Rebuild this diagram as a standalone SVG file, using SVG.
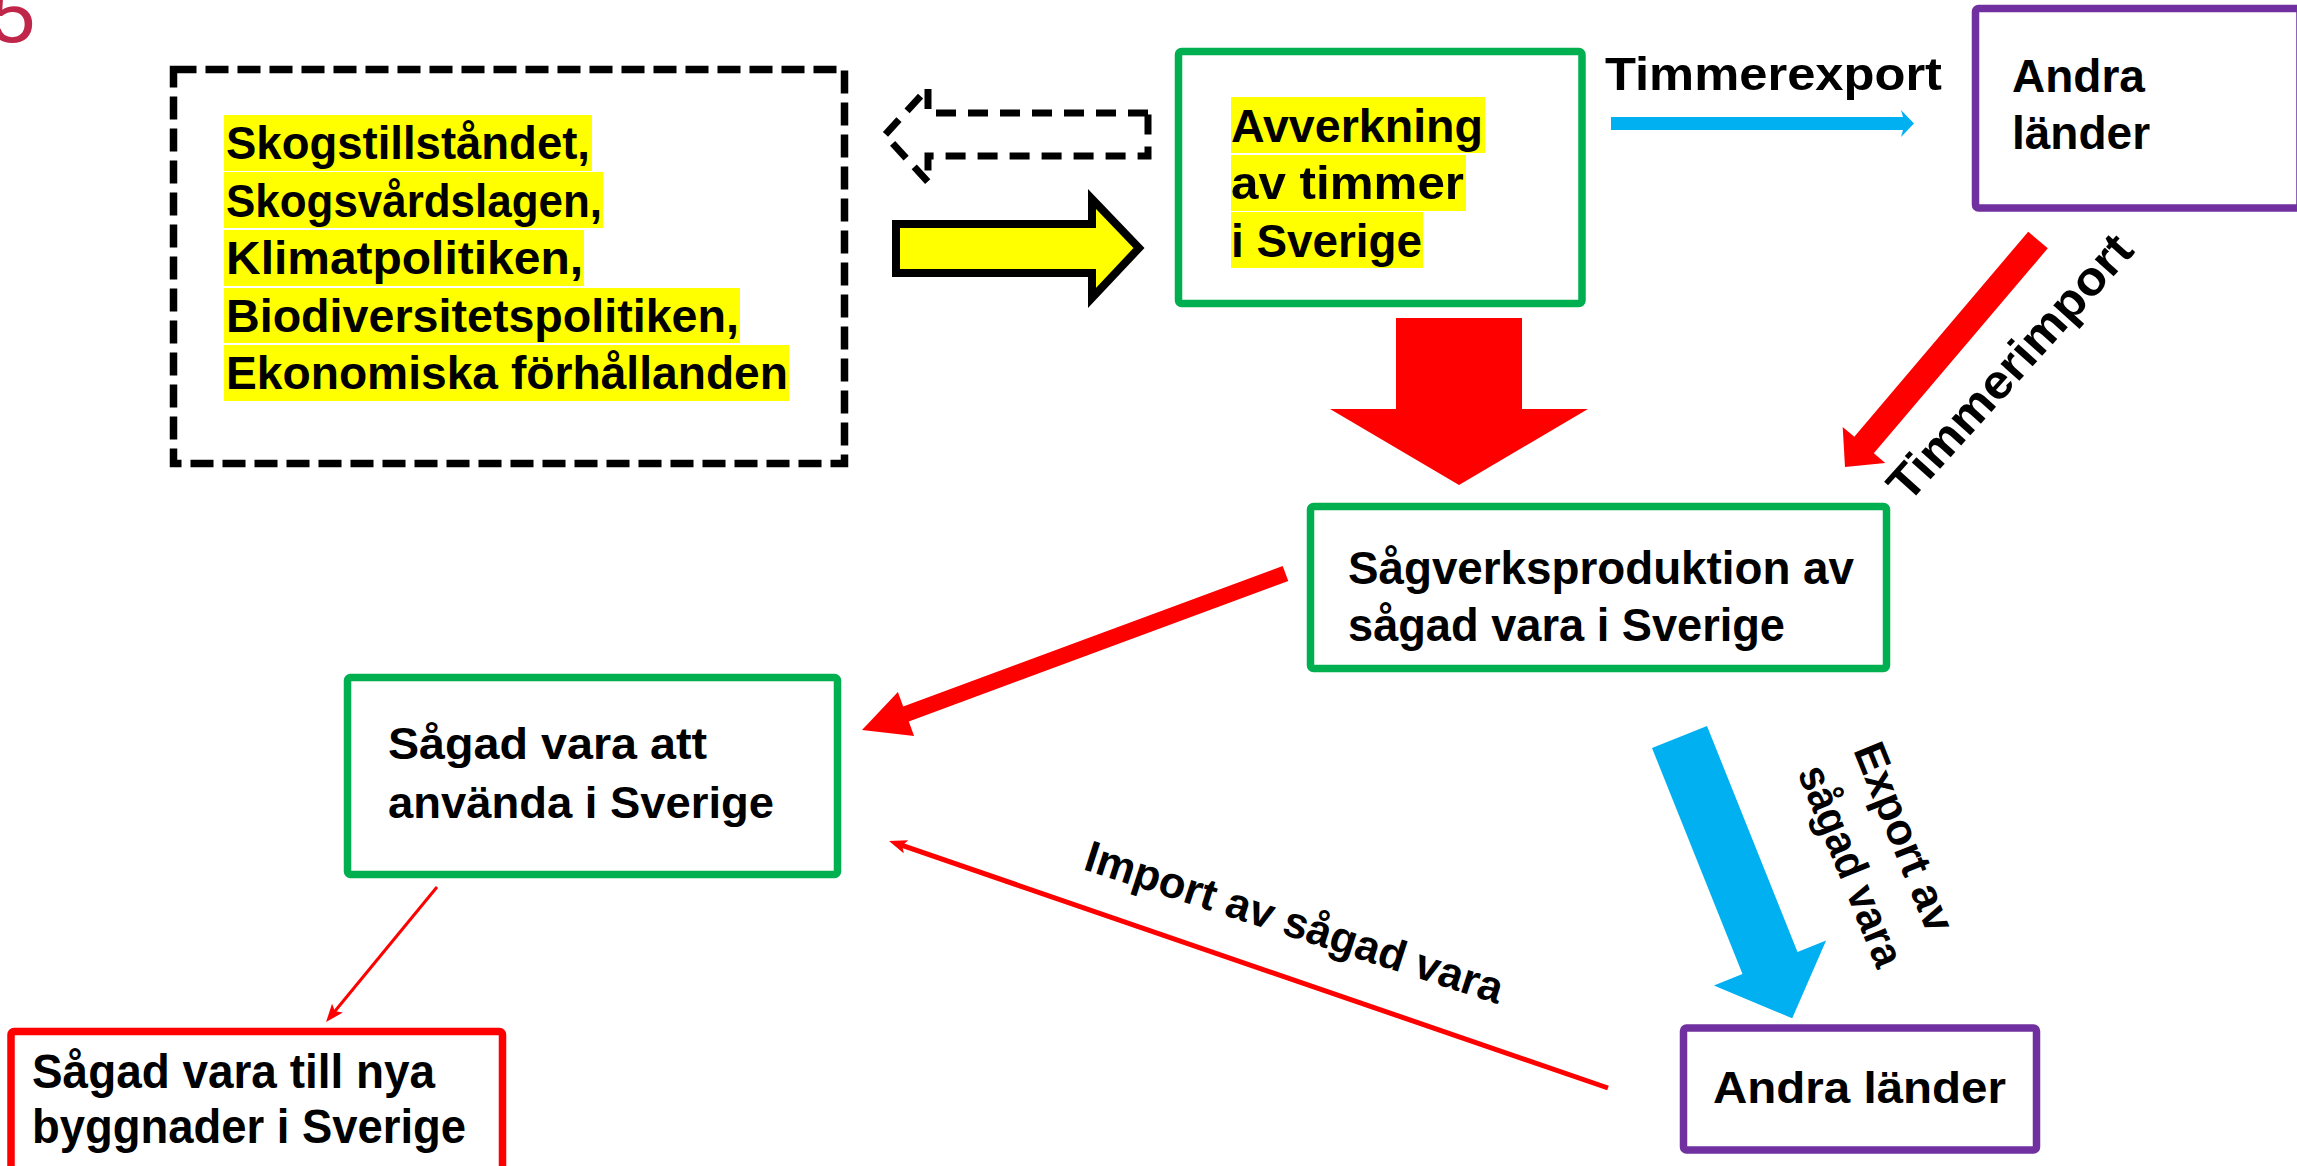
<svg xmlns="http://www.w3.org/2000/svg" width="2297" height="1166" viewBox="0 0 2297 1166">
<style>
.t{font-family:"Liberation Sans",Arial,sans-serif;font-weight:bold;fill:#000}
.hl{fill:#FFFF00}
.box{fill:#fff;stroke-width:7.5}
.g{stroke:#00B050}.p{stroke:#7030A0}.r{stroke:#FF0000}
</style>
<defs>
<marker id="ah" viewBox="0 0 18 14" refX="8" refY="7" markerWidth="18" markerHeight="14" markerUnits="userSpaceOnUse" orient="auto">
<path d="M0,0 L18,7 L0,14 L4,7 Z" fill="#FF0000"/>
</marker>
</defs>
<rect width="2297" height="1166" fill="#fff"/>
<text x="-10" y="42" font-family="Liberation Sans, Arial, sans-serif" font-size="82" fill="#C0264A">5</text>

<g id="n-factors">
<rect x="173.5" y="69.5" width="671" height="394" fill="none" stroke="#000" stroke-width="7.5" stroke-dasharray="23 9"/>
<rect class="hl" x="224" y="115" width="368" height="56"/>
<rect class="hl" x="224" y="172" width="379" height="56"/>
<rect class="hl" x="224" y="230" width="360" height="56"/>
<rect class="hl" x="224" y="288" width="516" height="55"/>
<rect class="hl" x="224" y="345" width="565" height="56"/>
<text class="t" font-size="47" x="226" y="159" textLength="364" lengthAdjust="spacingAndGlyphs">Skogstillståndet,</text>
<text class="t" font-size="47" x="226" y="217" textLength="376" lengthAdjust="spacingAndGlyphs">Skogsvårdslagen,</text>
<text class="t" font-size="47" x="226" y="274" textLength="357" lengthAdjust="spacingAndGlyphs">Klimatpolitiken,</text>
<text class="t" font-size="47" x="226" y="332" textLength="513" lengthAdjust="spacingAndGlyphs">Biodiversitetspolitiken,</text>
<text class="t" font-size="47" x="226" y="389" textLength="562" lengthAdjust="spacingAndGlyphs">Ekonomiska förhållanden</text>
</g>

<g id="n-avverkning">
<rect class="box g" x="1178.5" y="51.5" width="403.5" height="252" rx="3"/>
<rect class="hl" x="1231" y="97" width="254" height="56"/>
<rect class="hl" x="1231" y="155" width="235" height="56"/>
<rect class="hl" x="1231" y="212" width="192" height="56"/>
<text class="t" font-size="47" x="1231" y="142" textLength="252" lengthAdjust="spacingAndGlyphs">Avverkning</text>
<text class="t" font-size="47" x="1231" y="199" textLength="233" lengthAdjust="spacingAndGlyphs">av timmer</text>
<text class="t" font-size="47" x="1231" y="257" textLength="191" lengthAdjust="spacingAndGlyphs">i Sverige</text>
</g>

<g id="n-andra-top">
<rect class="box p" x="1975.5" y="8.5" width="324.5" height="199.5" rx="3"/>
<text class="t" font-size="46" x="2012" y="92">Andra</text>
<text class="t" font-size="46" x="2012" y="149">länder</text>
</g>

<g id="n-sagverk">
<rect class="box g" x="1310.5" y="506.5" width="576" height="162" rx="3"/>
<text class="t" font-size="46" x="1348" y="584" textLength="506" lengthAdjust="spacingAndGlyphs">Sågverksproduktion av</text>
<text class="t" font-size="46" x="1348" y="641" textLength="437" lengthAdjust="spacingAndGlyphs">sågad vara i Sverige</text>
</g>

<g id="n-sagad-anvanda">
<rect class="box g" x="347.5" y="677.5" width="490" height="197" rx="3"/>
<text class="t" font-size="45" x="388" y="759" textLength="319" lengthAdjust="spacingAndGlyphs">Sågad vara att</text>
<text class="t" font-size="45" x="388" y="818" textLength="386" lengthAdjust="spacingAndGlyphs">använda i Sverige</text>
</g>

<g id="n-sagad-nya">
<rect class="box r" x="11" y="1031.5" width="491.5" height="145" rx="3"/>
<text class="t" font-size="48" x="32" y="1088" textLength="403" lengthAdjust="spacingAndGlyphs">Sågad vara till nya</text>
<text class="t" font-size="48" x="32" y="1143" textLength="434" lengthAdjust="spacingAndGlyphs">byggnader i Sverige</text>
</g>

<g id="n-andra-bottom">
<rect class="box p" x="1683.5" y="1028" width="353" height="122" rx="3"/>
<text class="t" font-size="44" x="1713" y="1103" textLength="293" lengthAdjust="spacingAndGlyphs">Andra länder</text>
</g>

<g id="connectors">
<polygon points="1148,113 928,113 928,88 885,135 928,182 928,156 1148,156" fill="none" stroke="#000" stroke-width="7" stroke-dasharray="20 12"/>
<polygon points="896,224 1092,224 1092,199 1139,248 1092,298 1092,273 896,273" fill="#FFFF00" stroke="#000" stroke-width="8"/>
<polygon points="1611,117 1903,117 1901,110 1914,123.5 1901,137 1903,130 1611,130" fill="#00B0F0"/>
<text class="t" font-size="46" x="1605" y="90" textLength="337" lengthAdjust="spacingAndGlyphs">Timmerexport</text>
<polygon points="1396,318 1522,318 1522,409 1588,409 1459,485 1330,409 1396,409" fill="#FF0000"/>
<polygon points="2047.8,248.3 2028.2,231.7 1854.3,436.7 1842.7,426.9 1845,467 1885.3,463.1 1873.8,453.3" fill="#FF0000"/>
<text class="t" font-size="48" text-anchor="middle" textLength="340" lengthAdjust="spacingAndGlyphs" transform="translate(2022,378) rotate(-48)">Timmerimport</text>
<polygon points="1282.7,566 1288.3,581 908.8,721.5 914.1,736 862,730 897.9,692 903.2,706.5" fill="#FF0000"/>
<polygon points="1652,748 1707,726 1797.5,952 1826.1,940.5 1792.2,1018.3 1713.9,985.5 1742.5,974" fill="#00B0F0"/>
<text class="t" font-size="44" transform="translate(1853,750) rotate(68)"><tspan x="0" y="0" textLength="200" lengthAdjust="spacingAndGlyphs">Export av</tspan><tspan x="0" y="60" textLength="213" lengthAdjust="spacingAndGlyphs">sågad vara</tspan></text>
<line x1="1608" y1="1088" x2="898.5" y2="844.2" stroke="#FF0000" stroke-width="5" marker-end="url(#ah)"/>
<text class="t" font-size="44" transform="translate(1082,869) rotate(18)" textLength="437" lengthAdjust="spacingAndGlyphs">Import av sågad vara</text>
<line x1="437" y1="887" x2="332.4" y2="1014.3" stroke="#FF0000" stroke-width="3" marker-end="url(#ah)"/>
</g>
</svg>
